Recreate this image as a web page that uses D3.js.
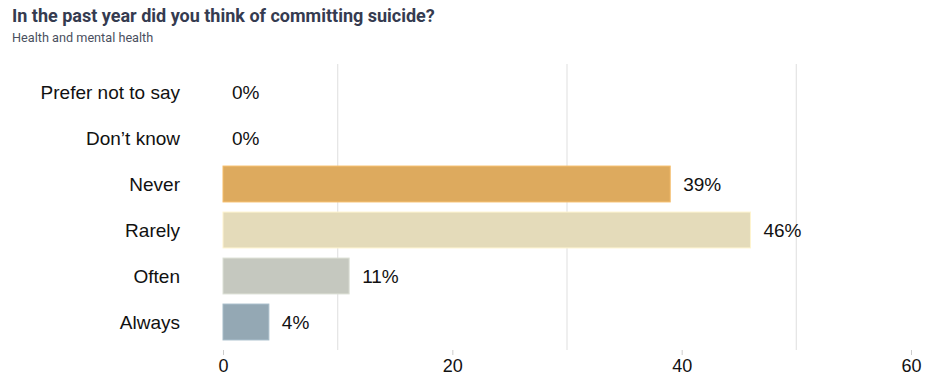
<!DOCTYPE html>
<html><head><meta charset="utf-8">
<script src="https://cdn.jsdelivr.net/npm/d3@7"></script>
<style>
body{margin:0;background:#fff;}
svg{display:block;}
</style></head>
<body>
<svg id="chart" width="940" height="392"></svg>
<script>
const categories = ["Prefer not to say", "Don’t know", "Never", "Rarely", "Often", "Always"];
const values = [0, 0, 39, 46, 11, 4];
const colors = ["#dcab5f", "#dcab5f", "#ddaa5e", "#e4dbba", "#c5c8bf", "#94a8b4"];
const tickValues = [0, 20, 40, 60];
const gridValues = [10, 30, 50];
const title = "In the past year did you think of committing suicide?";
const subtitle = "Health and mental health";

const svg = d3.select("#chart");
const x = d3.scaleLinear().domain([0, 60]).range([223, 911]);
const y = d3.scaleBand().domain(categories).range([69, 345]).paddingInner(0.22).paddingOuter(0.11);

svg.append("text").attr("x", 12).attr("y", 22)
  .attr("font-family", "Roboto, 'Open Sans', sans-serif").attr("font-weight", 700)
  .attr("font-size", 18).attr("fill", "#353b50").text(title);
svg.append("text").attr("x", 12).attr("y", 42)
  .attr("font-family", "Roboto, sans-serif")
  .attr("font-size", 12.7).attr("fill", "#4a4f5e").text(subtitle);

svg.append("g").selectAll("line").data(gridValues).join("line")
  .attr("x1", d => x(d)).attr("x2", d => x(d))
  .attr("y1", 64).attr("y2", 350)
  .attr("stroke", "#e6e6e6").attr("stroke-width", 1.3);

const xAxis = d3.axisBottom(x).tickValues(tickValues).tickSize(5).tickPadding(4).tickFormat(d3.format("d"));
const ax = svg.append("g").attr("transform", "translate(0,350)").call(xAxis);
ax.select(".domain").remove();
ax.selectAll(".tick line").attr("stroke", "#cccccc");
ax.selectAll(".tick text").attr("font-family", "'Liberation Sans Narrow', 'Liberation Sans', Arial, sans-serif")
  .attr("font-size", 18).attr("fill", "#111");

svg.append("g").selectAll("rect").data(values).join("rect")
  .attr("x", x(0)).attr("y", (d, i) => y(categories[i]))
  .attr("width", d => x(d) - x(0)).attr("height", y.bandwidth())
  .attr("fill", (d, i) => colors[i])
  .attr("stroke", (d, i) => d3.color(colors[i]).brighter(0.3))
  .attr("stroke-width", d => d > 0 ? 1 : 0);

svg.append("g").selectAll("text").data(categories).join("text")
  .attr("x", 180).attr("y", d => y(d) + y.bandwidth() / 2)
  .attr("dy", "0.35em").attr("text-anchor", "end")
  .attr("font-family", "'Liberation Sans', Arial, sans-serif").attr("font-size", 19)
  .attr("fill", "#111").text(d => d);

svg.append("g").selectAll("text").data(values).join("text")
  .attr("x", d => x(d) + (d > 0 ? 13 : 9)).attr("y", (d, i) => y(categories[i]) + y.bandwidth() / 2)
  .attr("dy", "0.35em")
  .attr("font-family", "'Liberation Sans', Arial, sans-serif").attr("font-size", 19)
  .attr("fill", "#111").text(d => d + "%");
</script>
</body></html>
